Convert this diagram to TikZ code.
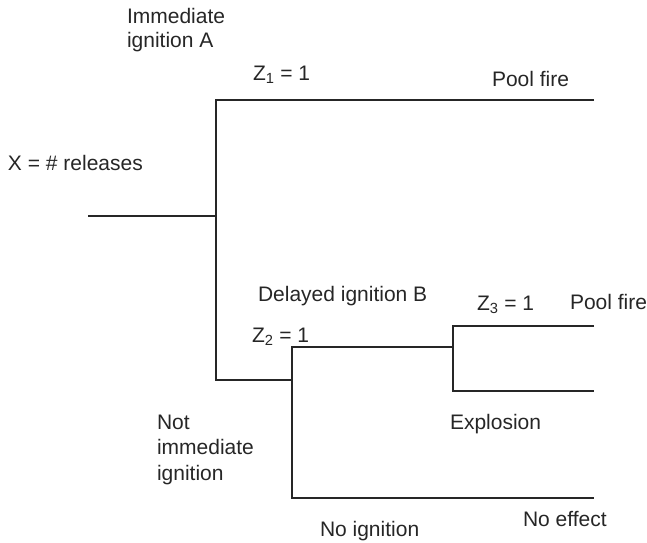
\documentclass[tikz,border=0pt]{standalone}
\usepackage{fontspec}
\setmainfont{Liberation Sans}
\begin{document}
\begin{tikzpicture}[x=1pt,y=-1pt,
  branch/.style={line width=1.1pt, draw=black!85},
  lbl/.style={anchor=base west, inner sep=0pt, outer sep=0pt, align=left,
    font=\fontsize{21}{25}\selectfont, text=black!85}]
\useasboundingbox (0,0) rectangle (647,542);

% junction and end points of the event tree
\coordinate (root) at (88,216);
\coordinate (a) at (216,216);
\coordinate (aTop) at (216,100);
\coordinate (aBot) at (216,380);
\coordinate (poolA) at (594,100);
\coordinate (b) at (292,380);
\coordinate (bTop) at (292,347);
\coordinate (bBot) at (292,498);
\coordinate (c) at (453,347);
\coordinate (cTop) at (453,326);
\coordinate (cBot) at (453,391);
\coordinate (poolB) at (594,326);
\coordinate (expl) at (594,391);
\coordinate (none) at (594,498);

% branches
\draw[branch] (root) -- (a);
\draw[branch] (poolA) -- (aTop) -- (aBot) -- (b);
\draw[branch] (c) -- (bTop) -- (bBot) -- (none);
\draw[branch] (poolB) -- (cTop) -- (cBot) -- (expl);

% labels (multi-line labels are placed by the baseline of their last line)
\node[lbl, font=\fontsize{21}{24}\selectfont] (immA) at (127,47) {Immediate\\ignition A};
\node[lbl] (z1) at (253,80) {Z\textsubscript{1} = 1};
\node[lbl] (pf1) at (492,86) {Pool fire};
\node[lbl] (x) at (8,170) {X = \# releases};
\node[lbl] (delB) at (258,301) {Delayed ignition B};
\node[lbl] (z2) at (252,342) {Z\textsubscript{2} = 1};
\node[lbl] (z3) at (477,310) {Z\textsubscript{3} = 1};
\node[lbl] (pf2) at (570,309) {Pool fire};
\node[lbl] (ex) at (450,429) {Explosion};
\node[lbl, font=\fontsize{21}{25.5}\selectfont] (notimm) at (157,480) {Not\\immediate\\ignition};
\node[lbl] (noeff) at (523,526) {No effect};
\node[lbl] (noign) at (320,536) {No ignition};
\end{tikzpicture}
\end{document}
